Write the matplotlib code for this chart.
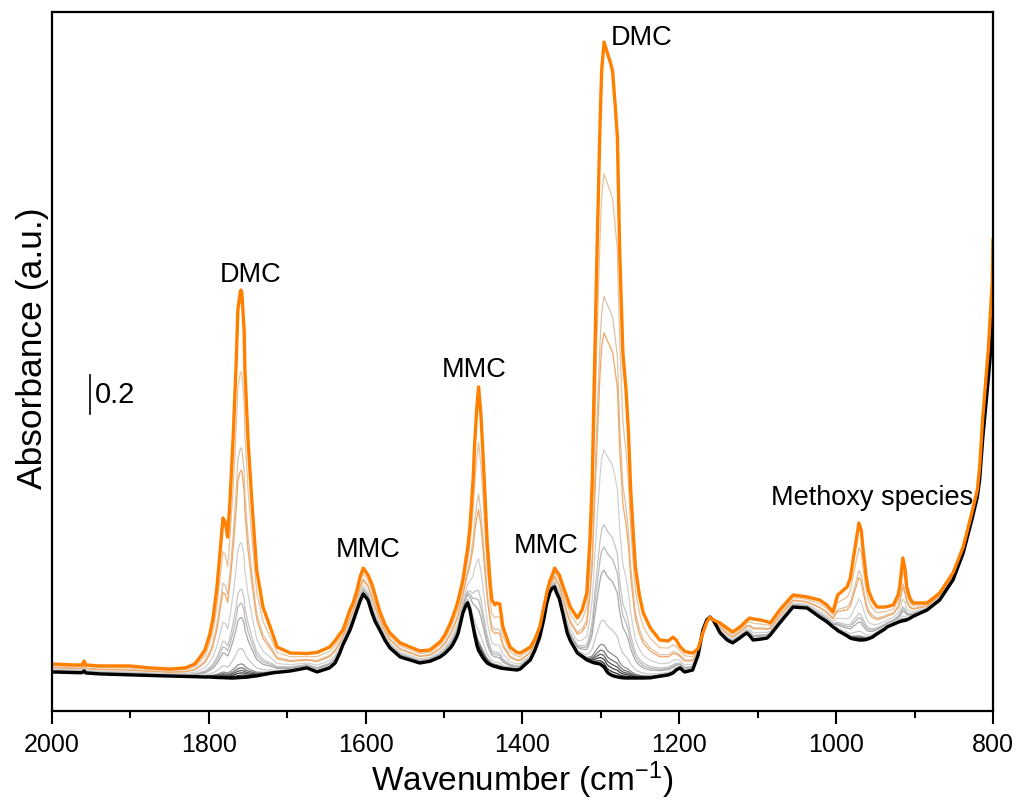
import numpy as np
import matplotlib
matplotlib.use('Agg')
import matplotlib.pyplot as plt

plt.rcParams['font.family'] = ['Liberation Sans', 'DejaVu Sans']
plt.rcParams['mathtext.default'] = 'regular'

# wavenumber grid (cm-1)
wavenumber = [2000, 1971, 1962, 1959, 1957, 1939, 1901, 1875, 1850, 1830, 1818, 1811, 1805, 1799,
              1795, 1790, 1786, 1782, 1779, 1776, 1773, 1769, 1765, 1763, 1760, 1759, 1758, 1755,
              1754, 1750, 1745, 1739, 1731, 1725, 1719, 1713, 1696, 1675, 1662, 1646, 1639, 1633,
              1629, 1626, 1620, 1616, 1611, 1607, 1603, 1597, 1592, 1588, 1582, 1575, 1569, 1556,
              1531, 1518, 1505, 1499, 1492, 1489, 1484, 1482, 1476, 1472, 1470, 1467, 1463, 1461,
              1458, 1456, 1453, 1450, 1445, 1441, 1439, 1435, 1433, 1429, 1425, 1416, 1407, 1403,
              1390, 1384, 1378, 1373, 1369, 1365, 1362, 1359, 1357, 1353, 1348, 1343, 1339, 1330,
              1324, 1318, 1314, 1311, 1309, 1305, 1301, 1299, 1296, 1292, 1290, 1287, 1285, 1282,
              1279, 1276, 1272, 1268, 1265, 1262, 1259, 1256, 1251, 1246, 1237, 1225, 1214, 1208,
              1204, 1199, 1195, 1193, 1183, 1176, 1170, 1165, 1161, 1157, 1152, 1148, 1139, 1132,
              1123, 1116, 1114, 1110, 1106, 1097, 1088, 1084, 1072, 1055, 1037, 1021, 1012, 1004,
              1000, 998, 986, 982, 979, 973, 971, 968, 966, 962, 959, 954, 948, 938,
              935, 927, 921, 919, 915, 912, 910, 906, 902, 884, 868, 851, 838, 827,
              820, 817, 813, 806, 801, 800]

# last spectrum (orange)
abs_last = [0.241, 0.236, 0.236, 0.256, 0.236, 0.231, 0.231, 0.221, 0.215, 0.221, 0.241, 0.277, 0.313, 0.390,
            0.467, 0.621, 0.800, 0.990, 0.969, 0.892, 1.082, 1.405, 1.800, 2.056, 2.149, 2.159, 2.149, 1.954,
            1.749, 1.390, 1.067, 0.723, 0.533, 0.467, 0.400, 0.328, 0.297, 0.295, 0.300, 0.328, 0.360, 0.395,
            0.415, 0.450, 0.520, 0.554, 0.620, 0.690, 0.733, 0.697, 0.650, 0.595, 0.510, 0.441, 0.400, 0.349,
            0.308, 0.313, 0.355, 0.390, 0.450, 0.482, 0.540, 0.569, 0.672, 0.780, 0.830, 0.944, 1.185, 1.374,
            1.569, 1.662, 1.518, 1.287, 0.862, 0.646, 0.569, 0.544, 0.554, 0.549, 0.431, 0.328, 0.300, 0.297,
            0.328, 0.370, 0.431, 0.530, 0.605, 0.670, 0.697, 0.733, 0.720, 0.697, 0.636, 0.580, 0.533, 0.477,
            0.518, 0.605, 0.877, 1.185, 1.595, 2.349, 3.031, 3.287, 3.431, 3.379, 3.354, 3.313, 3.277, 3.118,
            2.944, 2.349, 1.836, 1.646, 1.441, 1.133, 0.928, 0.738, 0.595, 0.503, 0.426, 0.364, 0.359, 0.379,
            0.364, 0.330, 0.313, 0.305, 0.297, 0.320, 0.400, 0.456, 0.482, 0.467, 0.458, 0.451, 0.425, 0.405,
            0.430, 0.456, 0.465, 0.477, 0.472, 0.467, 0.458, 0.451, 0.518, 0.595, 0.585, 0.569, 0.544, 0.508,
            0.569, 0.595, 0.636, 0.680, 0.759, 0.913, 0.964, 0.928, 0.841, 0.697, 0.621, 0.569, 0.533, 0.533,
            0.535, 0.544, 0.595, 0.636, 0.785, 0.723, 0.636, 0.579, 0.554, 0.554, 0.605, 0.708, 0.841, 1.015,
            1.133, 1.250, 1.508, 1.851, 2.195, 2.415]

# first spectrum (black)
abs_first = [0.200, 0.197, 0.196, 0.205, 0.195, 0.190, 0.185, 0.182, 0.179, 0.177, 0.176, 0.175, 0.174, 0.174,
             0.173, 0.172, 0.171, 0.171, 0.170, 0.170, 0.169, 0.169, 0.170, 0.170, 0.171, 0.171, 0.172, 0.173,
             0.173, 0.174, 0.177, 0.180, 0.186, 0.190, 0.195, 0.198, 0.205, 0.221, 0.200, 0.221, 0.246, 0.297,
             0.340, 0.364, 0.415, 0.460, 0.518, 0.565, 0.600, 0.569, 0.503, 0.460, 0.415, 0.360, 0.323, 0.277,
             0.246, 0.255, 0.277, 0.295, 0.323, 0.340, 0.379, 0.400, 0.503, 0.544, 0.554, 0.518, 0.431, 0.390,
             0.335, 0.310, 0.290, 0.270, 0.246, 0.237, 0.233, 0.228, 0.226, 0.221, 0.218, 0.214, 0.210, 0.215,
             0.262, 0.313, 0.379, 0.467, 0.554, 0.610, 0.630, 0.636, 0.610, 0.575, 0.490, 0.400, 0.360, 0.297,
             0.280, 0.262, 0.255, 0.250, 0.247, 0.244, 0.241, 0.235, 0.225, 0.200, 0.192, 0.185, 0.181, 0.178,
             0.175, 0.172, 0.170, 0.169, 0.169, 0.169, 0.169, 0.169, 0.169, 0.169, 0.170, 0.178, 0.185, 0.195,
             0.210, 0.221, 0.205, 0.200, 0.210, 0.287, 0.415, 0.467, 0.482, 0.467, 0.431, 0.400, 0.364, 0.349,
             0.374, 0.395, 0.400, 0.385, 0.364, 0.368, 0.374, 0.390, 0.451, 0.533, 0.528, 0.482, 0.458, 0.431,
             0.420, 0.412, 0.385, 0.374, 0.370, 0.366, 0.364, 0.364, 0.364, 0.366, 0.370, 0.378, 0.395, 0.420,
             0.431, 0.445, 0.455, 0.458, 0.462, 0.465, 0.467, 0.475, 0.485, 0.518, 0.569, 0.672, 0.810, 0.979,
             1.097, 1.185, 1.400, 1.700, 1.938, 2.185]

# intermediate spectra: share of the final signal reached (read at the 1296 cm-1 band)
mix_levels = [0.789, 0.593, 0.535, 0.348, 0.228, 0.192, 0.155, 0.075, 0.035, 0.025, 0.018, 0.012, 0.006]
mix_colors = ['#E8C29A', '#D9C2AA', '#F2A660', '#D0D0D0', '#C4C4C4', '#B8B8B8', '#A8A8A8',
              '#C8C8C8', '#8C8C8C', '#707070', '#585858', '#404040', '#2A2A2A']

labels = ['DMC', 'MMC', 'MMC', 'MMC', 'DMC', 'Methoxy species']
label_x = [1747, 1597, 1462, 1370, 1248, 954]
label_y = [2.236, 0.826, 1.749, 0.846, 3.451, 1.092]

wn = np.array(wavenumber)
last = np.array(abs_last)
first = np.array(abs_first)

fig = plt.figure(figsize=(10.22, 8.05), dpi=100)
ax = fig.add_axes([0.0509, 0.1168, 0.9207, 0.8683])

for f, c in zip(mix_levels, mix_colors):
    ax.plot(wn, first + f * (last - first), color=c, lw=0.9)
ax.plot(wn, first, color='black', lw=2.4, solid_joinstyle='round')
ax.plot(wn, last, color='#FF8000', lw=2.4, solid_joinstyle='round')

for t, x, y in zip(labels, label_x, label_y):
    ax.text(x, y, t, ha='center', va='center', fontsize=19.5)

# 0.2 absorbance scale bar
ax.plot([1951.5, 1951.5], [1.523, 1.723], color='black', lw=1.2)
ax.text(1945, 1.623, '0.2', ha='left', va='center', fontsize=21)

ax.set_xlim(2000, 800)
ax.set_ylim(0, 3.585)
ax.set_xticks([2000, 1800, 1600, 1400, 1200, 1000, 800])
ax.set_xticks(np.arange(1900, 800, -200), minor=True)
ax.set_yticks([])
ax.tick_params(axis='x', which='major', direction='out', length=9.5, width=1.5, labelsize=18, pad=6)
ax.tick_params(axis='x', which='minor', direction='out', length=5, width=1.5)
for s in ax.spines.values():
    s.set_linewidth(1.6)

ax.set_xlabel('Wavenumber (cm$^{-1}$)', fontsize=24, labelpad=2)
ax.set_ylabel('Absorbance (a.u.)', fontsize=25.5, ha='center', va='center')
ax.yaxis.set_label_coords(-0.021, 0.519)

fig.savefig('out.png', dpi=100)
